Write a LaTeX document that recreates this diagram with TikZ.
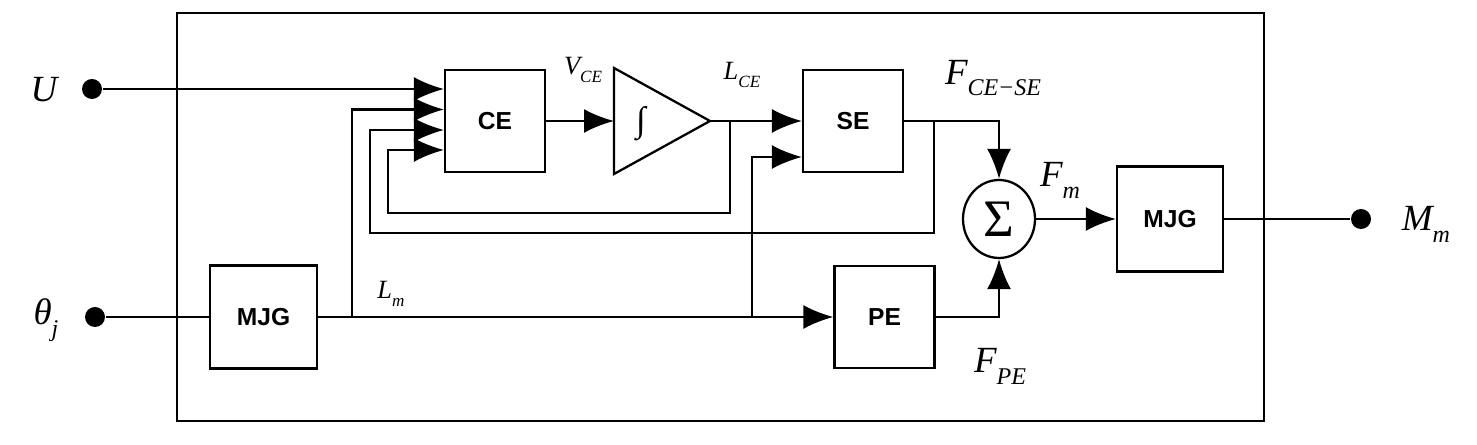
\documentclass[tikz,border=0pt]{standalone}
\usepackage{fontspec}
\setmainfont{Liberation Serif}
\setsansfont{Liberation Sans}
\usetikzlibrary{arrows.meta}
\usetikzlibrary{positioning}
\usetikzlibrary{shapes.geometric}
\usetikzlibrary{calc}

\newcommand{\lsub}[1]{\raisebox{-0.7ex}{\scalebox{0.65}{#1}}}

\tikzset{
  blk/.style={draw, line width=1.3pt, minimum width=2cm, minimum height=2.04cm, inner sep=0pt,
    font=\sffamily\bfseries\fontsize{14}{16}\selectfont},
  term/.style={circle, fill, inner sep=0pt, minimum size=0.4cm},
  biglab/.style={font=\fontsize{21}{24}\selectfont\itshape},
  smalllab/.style={font=\fontsize{15}{18}\selectfont\itshape},
}

\begin{document}
\begin{tikzpicture}[line width=1.3pt, >={Latex[length=6mm,width=4.8mm]}]

  \useasboundingbox (0,0) rectangle (29.54,8.9);

  % outer frame
  \draw (3.54,0.48) rectangle (25.28,8.64);

  % terminals
  \node[term] (udot) at (1.84,7.12) {};
  \node[term] (thdot) at (1.9,2.56) {};
  \node[term] (mdot) at (27.22,4.52) {};
  \node[biglab] (ulab) at (0.88,7.1) {U};
  \node[biglab] (thlab) at (0.92,2.5) {θ\lsub{j}};
  \node[biglab] (mlab) at (28.52,4.42) {M\lsub{m}};

  % blocks
  \node[blk] (ce) at (9.9,6.48) {CE};
  \node[blk] (se) at (17.06,6.48) {SE};
  \node[blk] (pe) at (17.69,2.56) {PE};
  \node[blk, minimum width=2.14cm, minimum height=2.06cm] (mjgin) at (5.27,2.56) {MJG};
  \node[blk, minimum width=2.12cm, minimum height=2.1cm] (mjgout) at (23.4,4.52) {MJG};
  \node[ellipse, draw, minimum width=1.44cm, minimum height=1.56cm, inner sep=0pt,
    font=\fontsize{30}{32}\selectfont] (sum) at (19.98,4.52) {Σ};

  % integrator
  \draw (12.28,7.54) -- (14.2,6.48) -- (12.28,5.42) -- cycle;
  \node[font=\fontsize{20}{22}\selectfont\itshape] (integ) at (12.82,6.42) {∫};
  \coordinate (trin) at (12.28,6.48);
  \coordinate (trout) at (14.2,6.48);

  % branch points and extra inputs
  \coordinate (fb1) at (14.6,6.48);
  \coordinate (fb2) at (18.68,6.48);
  \coordinate (lmb) at (7.04,2.56);
  \coordinate (peb) at (15.04,2.56);
  \coordinate (in2) at ([yshift=2.3mm]ce.west);
  \coordinate (in3) at ([yshift=-1.8mm]ce.west);
  \coordinate (in4) at ([yshift=-5.8mm]ce.west);
  \coordinate (sein2) at ([yshift=-7.2mm]se.west);

  % signals
  \draw[->] (udot) -- (udot -| ce.west);
  \draw[->] (lmb) |- (in2);
  \draw[->] (fb2) |- (7.4,4.24) |- (in3);
  \draw[->] (fb1) |- (7.76,4.64) |- (in4);
  \draw[->] (ce) -- (trin);
  \draw[->] (trout) -- (se);
  \draw[->] (peb) |- (sein2);
  \draw (thdot) -- (mjgin);
  \draw[->] (mjgin) -- (pe);
  \draw[->] (se) -| (sum);
  \draw[->] (pe) -| (sum);
  \draw[->] (sum) -- (mjgout);
  \draw (mjgout) -- (mdot);

  % labels
  \node[smalllab] (vlab) at (11.66,7.5) {V\lsub{CE}};
  \node[smalllab] (lcelab) at (14.84,7.4) {L\lsub{CE}};
  \node[biglab] (fcslab) at (19.86,7.34) {F\lsub{CE−SE}};
  \node[biglab] (fmlab) at (21.2,5.3) {F\lsub{m}};
  \node[biglab] (fpelab) at (20.0,1.58) {F\lsub{PE}};
  \node[smalllab] (lmlab) at (7.82,3.02) {L\lsub{m}};

\end{tikzpicture}
\end{document}
